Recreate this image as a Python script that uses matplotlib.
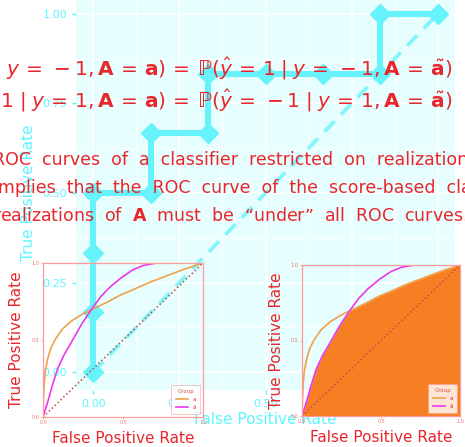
import matplotlib
matplotlib.use('Agg')
import matplotlib.pyplot as plt
from matplotlib.ticker import MultipleLocator
import numpy as np

plt.rcParams['font.family'] = ['DejaVu Sans']
plt.rcParams['mathtext.fontset'] = 'dejavusans'

# step ROC curve (cyan chart)
roc_fpr = [0, 0, 0, 0, 0.1667, 0.1667, 0.3333, 0.3333, 0.5, 0.6667, 0.8333, 0.8333, 1.0]
roc_tpr = [0, 0.1667, 0.3333, 0.5, 0.5, 0.6667, 0.6667, 0.8333, 0.8333, 0.8333, 0.8333, 1.0, 1.0]
ticks = [0.0, 0.25, 0.5, 0.75, 1.0]
tick_labels = ['0.00', '0.25', '0.50', '0.75', '1.00']

# smooth ROC curves in the red excerpt
orange_fpr = [0, 0.003, 0.008, 0.015, 0.03, 0.05, 0.08, 0.12, 0.18, 0.25, 0.32, 0.40,
              0.48, 0.57, 0.67, 0.77, 0.87, 0.94, 1.0]
orange_tpr = [0, 0.12, 0.22, 0.30, 0.38, 0.45, 0.51, 0.57, 0.625, 0.67, 0.705, 0.745,
              0.79, 0.83, 0.876, 0.915, 0.955, 0.98, 1.0]
magenta_fpr = [0, 0.03, 0.06, 0.09, 0.13, 0.18, 0.24, 0.30, 0.36, 0.42, 0.49, 0.56,
               0.63, 0.70, 0.75, 1.0]
magenta_tpr = [0, 0.10, 0.21, 0.31, 0.40, 0.49, 0.60, 0.695, 0.78, 0.845, 0.905, 0.955,
               0.985, 0.998, 1.0, 1.0]

eq_lines = [r'$\mathrm{ℙ}(\hat{y}\,=\,1\;|\;y\,=\,-1,\mathbf{A}\,=\,\mathbf{a})\,=\,\mathrm{ℙ}(\hat{y}\,=\,1\;|\;y\,=\,-1,\mathbf{A}\,=\,\tilde{\mathbf{a}})$',
            r'$\mathrm{ℙ}(\hat{y}\,=\,-1\;|\;y\,=\,1,\mathbf{A}\,=\,\mathbf{a})\,=\,\mathrm{ℙ}(\hat{y}\,=\,-1\;|\;y\,=\,1,\mathbf{A}\,=\,\tilde{\mathbf{a}})$']
body_lines = ['ROC  curves  of  a  classifier  restricted  on  realizations',
              'implies  that  the  ROC  curve  of  the  score-based  classifier',
              r'realizations  of  $\mathbf{A}$  must  be  “under”  all  ROC  curves.']

W, H = 465, 447
cyan_txt = '#5cf6ff'
cyan_line = '#66f3fb'
red = '#e8262b'
pink = '#ff9a9a'

fig = plt.figure(figsize=(W/100, H/100), dpi=100)

# ---- cyan ROC chart (ggplot look) ----
ax = fig.add_axes([76/W, 57/H, 379/W, 394/H])
ax.set_facecolor('#e6fefe')
ax.set_xlim(-0.05, 1.05)
ax.set_ylim(-0.05, 1.05)
ax.set_xticks(ticks)
ax.set_xticklabels(tick_labels)
ax.set_yticks(ticks)
ax.set_yticklabels(tick_labels)
ax.xaxis.set_minor_locator(MultipleLocator(0.125))
ax.yaxis.set_minor_locator(MultipleLocator(0.125))
ax.grid(which='major', color='white', lw=1.1)
ax.grid(which='minor', color='white', lw=0.55)
ax.set_axisbelow(True)
for sp in ax.spines.values():
    sp.set_visible(False)
ax.tick_params(which='major', colors=cyan_txt, labelsize=8, length=3, width=1)
ax.tick_params(which='minor', length=0)
ax.plot([0, 1], [0, 1], color='#7ef6fc', lw=2.6, dashes=(4, 2.6))
ax.plot(roc_fpr, roc_tpr, color=cyan_line, lw=4.3, marker='D', ms=10,
        mec=cyan_line, mfc=cyan_line)
ax.set_xlabel('False Positive Rate', color=cyan_txt, fontsize=11)
ax.set_ylabel('True Positive Rate', color=cyan_txt, fontsize=11)
ax.xaxis.set_label_coords(0.5, -(420 - 390 - 8) / 394)
ax.yaxis.set_label_coords(-(76 - 36) / 379, 0.5)

# ---- red paper excerpt on top ----
for i, s in enumerate(eq_lines):
    fig.text(452/W, 1 - (75 + 32*i)/H, s, color=red, fontsize=14.5, ha='right', va='baseline')
for i, s in enumerate(body_lines):
    fig.text(-7/W, 1 - (165 + 28*i)/H, s, color=red, fontsize=12.5, ha='left', va='baseline')


def roc_panel(rect, fill):
    a = fig.add_axes(rect)
    a.patch.set_alpha(0)
    a.set_xlim(0, 1)
    a.set_ylim(0, 1)
    a.set_xticks([0, 0.5, 1])
    a.set_yticks([0, 0.5, 1])
    a.set_xticklabels(['0.0', '0.5', '1.0'])
    a.set_yticklabels(['0.0', '0.5', '1.0'])
    a.tick_params(colors=pink, labelcolor='#f07070', labelsize=3.5, length=1.5, width=0.6, pad=1)
    for sp in a.spines.values():
        sp.set_color(pink)
        sp.set_linewidth(0.9)
    if fill:
        xs = np.union1d(orange_fpr, magenta_fpr)
        low = np.minimum(np.interp(xs, orange_fpr, orange_tpr), np.interp(xs, magenta_fpr, magenta_tpr))
        a.fill_between(xs, 0, low, color='#f57f22', lw=0)
    a.plot(orange_fpr, orange_tpr, color='#f2a04c', lw=1.2, label='a')
    a.plot(magenta_fpr, magenta_tpr, color='#ec38ec', lw=1.2, label='ã')
    a.plot([0, 1], [0, 1], color='#c84a4a', lw=1.1, ls=':')
    leg = a.legend(title='Group', loc='lower right', fontsize=4, title_fontsize=4,
                   frameon=True, borderaxespad=0.5, handlelength=2.2, labelcolor=red,
                   fancybox=False, borderpad=0.8, labelspacing=0.5)
    leg.get_frame().set_edgecolor(pink)
    leg.get_frame().set_linewidth(0.5)
    leg.get_title().set_color('#e05050')
    a.set_xlabel('False Positive Rate', color=red, fontsize=11)
    a.set_ylabel('True Positive Rate', color=red, fontsize=11)
    return a


ax1 = roc_panel([43/W, 30/H, 160/W, 154/H], False)
ax1.xaxis.set_label_coords(0.5, -14/154)
ax1.yaxis.set_label_coords(-19/160, 0.5)
ax2 = roc_panel([302/W, 31/H, 158/W, 151/H], True)
ax2.xaxis.set_label_coords(0.5, -14/151)
ax2.yaxis.set_label_coords(-18/158, 0.5)

fig.savefig('out.png', dpi=100)
